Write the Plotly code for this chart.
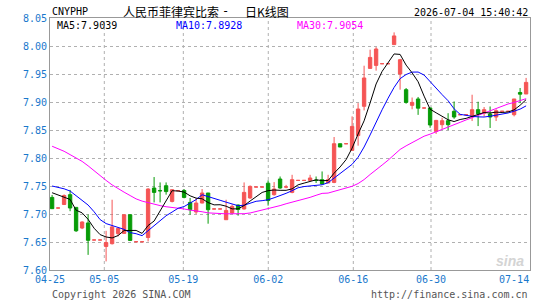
import numpy as np
import pandas as pd
import plotly.graph_objects as go

# ---------------- data ----------------
opens = [7.7296, 7.7107, 7.717, 7.7345, 7.7118, 7.675, 7.684, 7.6536, 7.6536, 7.642,
         7.647, 7.665, 7.6654, 7.6987, 7.6505, 7.6505, 7.658, 7.7464, 7.742, 7.7505,
         7.7225, 7.7416, 7.742, 7.7207, 7.7036, 7.7196, 7.7375, 7.709, 7.709, 7.6898,
         7.7018, 7.716, 7.709, 7.7286, 7.7482, 7.7482, 7.755, 7.7345, 7.7625, 7.7482,
         7.7386, 7.760, 7.760, 7.760, 7.7602, 7.7613, 7.7554, 7.7564, 7.8255, 7.8255,
         7.8136, 7.840, 7.8923, 7.960, 7.9654, 7.9684, 7.9684, 8.0025, 7.950, 7.922,
         7.894, 7.9054, 7.8893, 7.8893, 7.8475, 7.8595, 7.8666, 7.8834, 7.8773, 7.8773,
         7.8743, 7.8863, 7.880, 7.8786, 7.8732, 7.8834, 7.8834, 7.8773, 7.917, 7.9143]
highs = [7.734, 7.7107, 7.735, 7.743, 7.7118, 7.687, 7.699, 7.6536, 7.6536, 7.670,
         7.7255, 7.676, 7.699, 7.699, 7.6505, 7.6505, 7.746, 7.766, 7.7564, 7.7564,
         7.744, 7.7416, 7.7445, 7.7286, 7.7286, 7.7446, 7.7375, 7.709, 7.709, 7.7255,
         7.717, 7.717, 7.7564, 7.751, 7.7482, 7.7482, 7.760, 7.757, 7.767, 7.752,
         7.770, 7.760, 7.760, 7.770, 7.767, 7.776, 7.770, 7.8375, 7.8255, 7.8255,
         7.8743, 7.898, 7.9648, 7.9934, 7.998, 7.9684, 7.9684, 8.0243, 7.977, 7.925,
         7.908, 7.909, 7.8893, 7.890, 7.868, 7.872, 7.880, 7.901, 7.8773, 7.8773,
         7.913, 7.9005, 7.891, 7.892, 7.887, 7.8834, 7.8834, 7.9054, 7.925, 7.943]
lows = [7.709, 7.7107, 7.716, 7.705, 7.668, 7.673, 7.627, 7.6536, 7.6536, 7.6154,
        7.6455, 7.660, 7.665, 7.6518, 7.6505, 7.6505, 7.651, 7.7207, 7.7207, 7.7345,
        7.7207, 7.7416, 7.728, 7.6988, 7.700, 7.719, 7.6827, 7.709, 7.709, 7.6898,
        7.700, 7.697, 7.708, 7.727, 7.7482, 7.7482, 7.715, 7.7327, 7.745, 7.746,
        7.737, 7.760, 7.760, 7.760, 7.7554, 7.753, 7.7554, 7.755, 7.8196, 7.8255,
        7.8136, 7.822, 7.885, 7.960, 7.956, 7.9684, 7.9684, 8.0025, 7.922, 7.897,
        7.887, 7.877, 7.8893, 7.854, 7.843, 7.852, 7.850, 7.870, 7.8773, 7.8773,
        7.866, 7.857, 7.874, 7.8536, 7.866, 7.8834, 7.8834, 7.8743, 7.898, 7.9143]
closes = [7.7095, 7.7107, 7.733, 7.7107, 7.670, 7.6857, 7.653, 7.6536, 7.6536, 7.649,
          7.677, 7.6743, 7.6987, 7.6529, 7.6505, 7.6505, 7.7446, 7.7386, 7.7414, 7.740,
          7.7434, 7.7416, 7.7296, 7.7077, 7.7196, 7.7375, 7.7077, 7.709, 7.709, 7.7064,
          7.7136, 7.708, 7.7386, 7.7493, 7.7482, 7.7482, 7.724, 7.7446, 7.7464, 7.7482,
          7.7613, 7.760, 7.760, 7.7643, 7.760, 7.7536, 7.7613, 7.8255, 7.8196, 7.8255,
          7.8564, 7.8875, 7.9429, 7.9796, 7.9946, 7.9684, 7.9684, 8.018, 7.9755, 7.8993,
          7.8993, 7.889, 7.8893, 7.859, 7.8671, 7.8666, 7.8595, 7.8732, 7.8773, 7.8773,
          7.8863, 7.879, 7.8863, 7.8732, 7.8845, 7.8834, 7.8834, 7.9054, 7.914, 7.935]

# moving-average values at the left edge (window reaches before the visible data)
ma5_head = [7.738, 7.734, 7.731, 7.726]
ma10_head = [7.750, 7.748, 7.745, 7.741, 7.733, 7.725, 7.716, 7.704, 7.690]
ma30_head = [7.821, 7.817, 7.812, 7.806, 7.800, 7.794, 7.786, 7.777, 7.768, 7.760,
             7.752, 7.745, 7.739, 7.733, 7.727, 7.723, 7.720, 7.717, 7.715, 7.713,
             7.712, 7.711, 7.709, 7.707, 7.706, 7.704, 7.702, 7.701, 7.700]

date_labels = ["04-25", "05-05", "05-19", "06-02", "06-16", "06-30", "07-14"]
grid_pos = [-0.35, 8.70, 21.87, 36.03, 50.2, 63.15, 79.65]
label_pos = [-0.35, 8.70, 21.87, 36.03, 50.2, 63.15, 77.0]
y_ticks = [7.60, 7.65, 7.70, 7.75, 7.80, 7.85, 7.90, 7.95, 8.00, 8.05]

legend_texts = ["MA5:7.9039", "MA10:7.8928", "MA30:7.9054"]

# ---------------- styling ----------------
RED = "#f55555"
GREEN = "#079b07"
MONO = "DejaVu Sans Mono"
CJK = "Noto Sans CJK SC"
AXIS_BLUE = "#1a78cc"

W, H = 545, 300
L, R, T, B = 50, 15, 18, 30
PW, PH = W - L - R, H - T - B

def px(xp):
    return (xp - L) / PW

def py(yp):
    return (H - B - yp) / PH

n = len(closes)
idx = np.arange(n)
o = np.array(opens); h = np.array(highs); lo = np.array(lows); c = np.array(closes)
up = c >= o
dn = ~up

cs = pd.Series(closes)
ma5 = cs.rolling(5).mean().to_numpy(); ma5[:len(ma5_head)] = ma5_head
ma10 = cs.rolling(10).mean().to_numpy(); ma10[:len(ma10_head)] = ma10_head
ma30 = cs.rolling(30).mean().to_numpy(); ma30[:len(ma30_head)] = ma30_head

fig = go.Figure()

def candle(mask, color):
    fig.add_trace(go.Candlestick(
        x=idx[mask], open=o[mask], high=h[mask], low=lo[mask], close=c[mask],
        increasing=dict(line=dict(color=color, width=1), fillcolor=color),
        decreasing=dict(line=dict(color=color, width=1), fillcolor=color),
        whiskerwidth=0, showlegend=False, hoverinfo="skip"))

candle(up, RED)
candle(dn, GREEN)

for vals, col in [(ma30, "#ff00ff"), (ma10, "#0000ff"), (ma5, "#000000")]:
    fig.add_trace(go.Scatter(x=idx, y=vals, mode="lines",
                             line=dict(color=col, width=1), showlegend=False,
                             hoverinfo="skip"))

shapes = []
for g in grid_pos[1:-1]:
    shapes.append(dict(type="line", xref="x", yref="paper", x0=g, x1=g, y0=0, y1=1,
                       line=dict(color="#b0b0b0", width=1, dash="dot"), layer="below"))

ann = []
def text(t, xp, yp, color="#000", size=10, family=MONO, xanchor="left"):
    ann.append(dict(text=t, x=px(xp), y=py(yp), xref="paper", yref="paper",
                    showarrow=False, xanchor=xanchor, yanchor="middle",
                    font=dict(color=color, size=size, family=family)))

text("CNYPHP", 50, 11, size=10)
text("人民币菲律宾比索", 121, 11, size=12, family=CJK)
text("-", 225, 11, size=12, family=MONO, xanchor="center")
text("日K线图", 243, 11, size=12, family=CJK)
text("2026-07-04 15:40:42", 529.5, 12, size=10, xanchor="right")
text(legend_texts[0], 54.5, 25, color="#000000")
text(legend_texts[1], 174, 25, color="#0000ff")
text(legend_texts[2], 295, 25, color="#ff00ff")
text("Copyright 2026 SINA.COM", 49.5, 294, color="#555555")
text("http://finance.sina.com.cn", 529.5, 294, color="#555555", xanchor="right")
text("<b><i>sina</i></b>", 526, 261, color="#d4d4d4", size=14, family="Liberation Sans",
     xanchor="right")

fig.update_layout(
    width=W, height=H, margin=dict(l=L, r=R, t=T, b=B, pad=0),
    paper_bgcolor="white", plot_bgcolor="white",
    shapes=shapes, annotations=ann, boxgap=0.2,
    xaxis=dict(range=[-0.35, 79.65], rangeslider=dict(visible=False),
               tickmode="array", tickvals=label_pos, ticktext=date_labels,
               showgrid=False, zeroline=False, showline=True, mirror=True,
               linecolor="#999999", linewidth=1, ticks="", ticklen=0,
               tickfont=dict(family=MONO, size=10, color=AXIS_BLUE)),
    yaxis=dict(range=[7.60, 8.05], tickmode="array", tickvals=y_ticks,
               tickformat=".2f", showgrid=True, gridcolor="#b0b0b0", griddash="dot",
               gridwidth=1, zeroline=False, showline=True, mirror=True,
               linecolor="#999999", linewidth=1, ticks="",
               tickfont=dict(family=MONO, size=10, color=AXIS_BLUE)),
)

fig.write_html("out.html")
